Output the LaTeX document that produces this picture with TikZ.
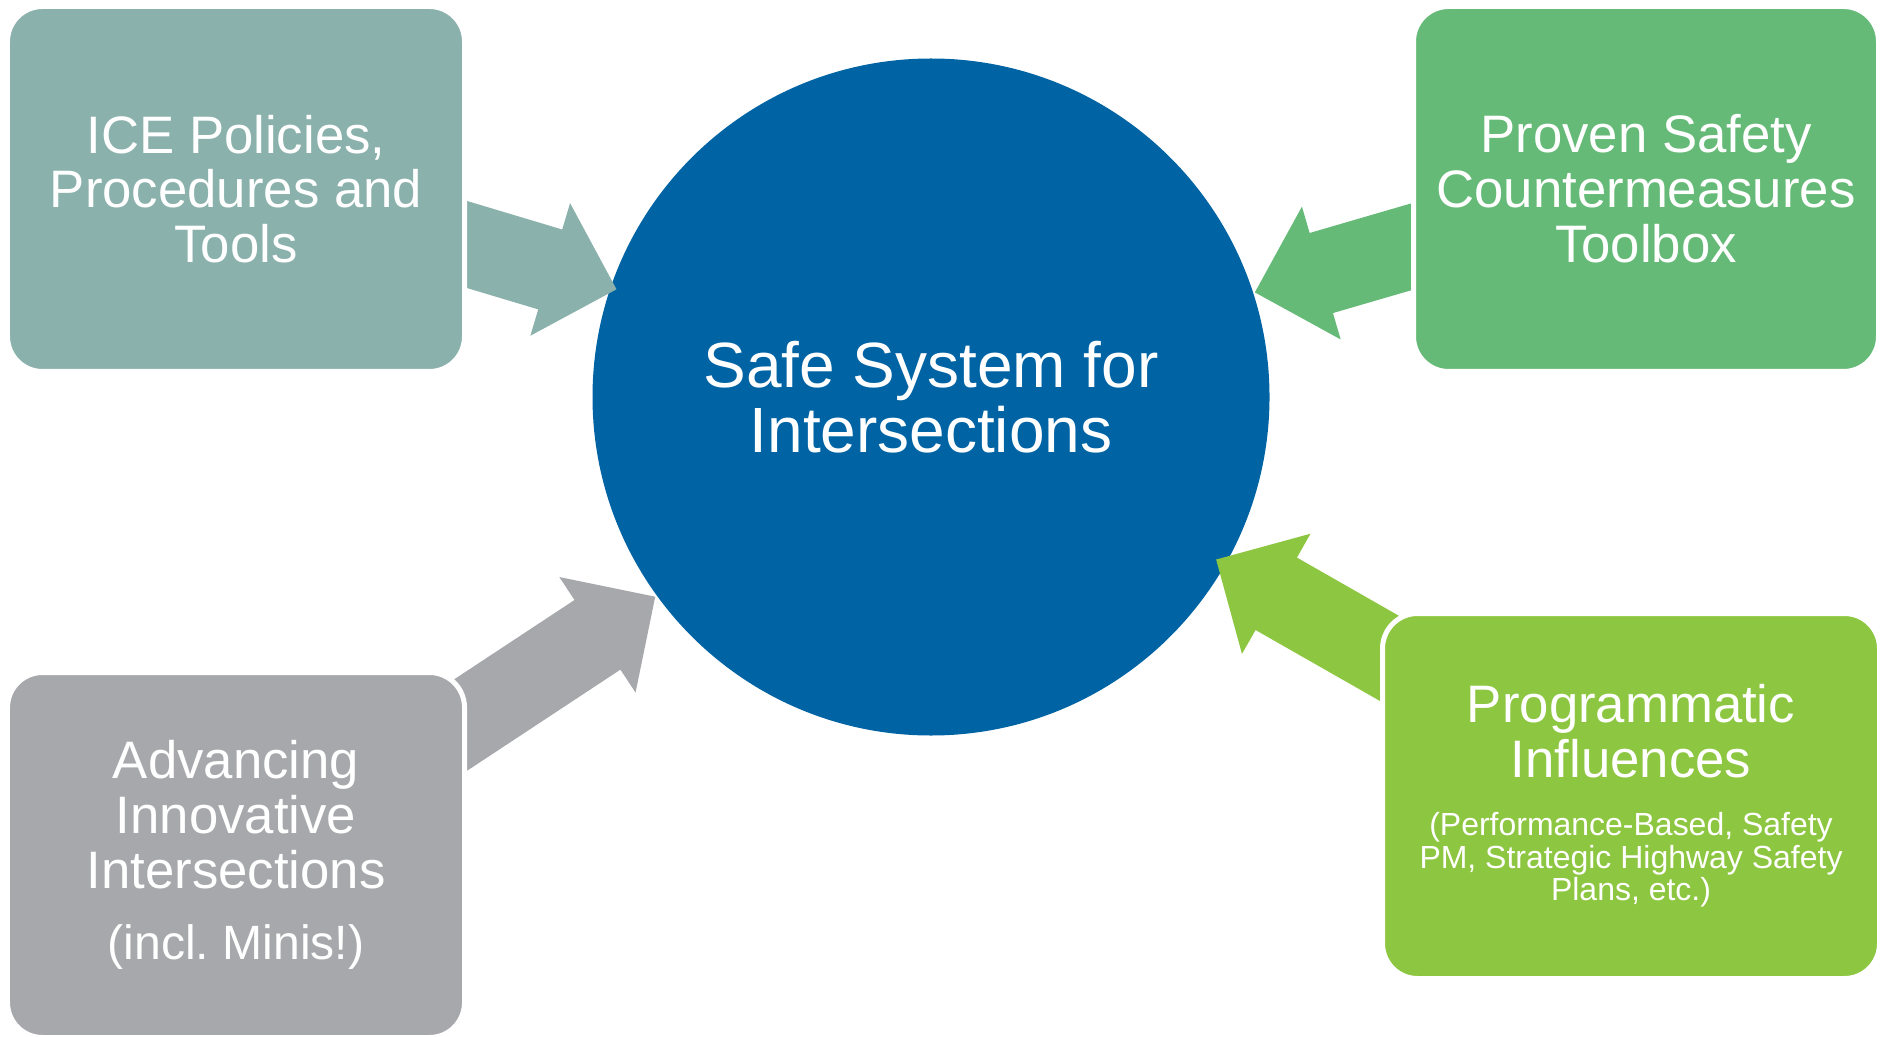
\documentclass[tikz,border=0pt]{standalone}
\usepackage{fontspec}
\setmainfont{Liberation Sans}
\frenchspacing
\usetikzlibrary{shapes.arrows}

\definecolor{iceteal}{HTML}{8AB1AB}
\definecolor{provgreen}{HTML}{66BA77}
\definecolor{advgray}{HTML}{A7A8AC}
\definecolor{proglime}{HTML}{8DC640}
\definecolor{hubblue}{HTML}{0064A4}

% circle at the bottom, block arrows above it, boxes on top
\pgfdeclarelayer{hublayer}
\pgfdeclarelayer{arrowlayer}
\pgfsetlayers{hublayer,arrowlayer,main}

\tikzset{
    sidebox/.style={rectangle, rounded corners=0.35cm, draw=white, line width=0.05cm,
        minimum height=3.65cm, inner sep=0pt, text=white, align=center,
        font=\fontsize{15}{15.6}\selectfont},
    hubdisc/.style={circle, fill=hubblue, minimum size=6.77cm, inner sep=0pt,
        text=white, align=center, font=\fontsize{18.2}{18.5}\selectfont},
    blockarrow/.style={single arrow, single arrow head extend=0.275cm,
        inner xsep=0pt, inner ysep=0.41cm, sloped, allow upside down,
        pos=1, anchor=tip}
}

\begin{document}
\begin{tikzpicture}
    \useasboundingbox (0,0) rectangle (18.86,-10.37);

    \begin{pgfonlayer}{hublayer}
    \node[hubdisc] (hub) at (9.31,-3.97) {Safe System for\\Intersections};
    \end{pgfonlayer}

    \node[sidebox, fill=iceteal, minimum width=4.57cm] (ice) at (2.36,-1.89)
        {ICE Policies,\\Procedures and\\Tools};
    \node[sidebox, fill=provgreen, minimum width=4.65cm] (proven) at (16.46,-1.89)
        {Proven Safety\\Countermeasures\\Toolbox};
    \node[sidebox, fill=advgray, minimum width=4.57cm] (adv) at (2.36,-8.55)
        {Advancing\\Innovative\\Intersections\\[4.6pt]{\fontsize{13.7}{14}\selectfont (incl. Minis!)}};
    \node[sidebox, fill=proglime, minimum width=4.97cm] (prog) at (16.31,-7.96)
        {Programmatic\\Influences\\[0.9pt]%
         {\fontsize{9.1}{9.25}\selectfont (Performance-Based, Safety}\\[-6.35pt]%
         {\fontsize{9.1}{9.25}\selectfont PM, Strategic Highway Safety}\\[-6.35pt]%
         {\fontsize{9.1}{9.25}\selectfont Plans, etc.)}};

    % the four inputs pointing at the hub
    \begin{pgfonlayer}{arrowlayer}
    \path (ice) -- (hub) node[blockarrow, fill=iceteal, minimum height=1.9cm, xshift=0.08cm, yshift=0.13cm] (icearrow) {};
    \path (proven) -- (hub) node[blockarrow, fill=provgreen, minimum height=1.9cm, yshift=-0.10cm] (provenarrow) {};
    \path (adv) -- (hub) node[blockarrow, fill=advgray, minimum height=2.8cm, yshift=-0.15cm] (advarrow) {};
    \path (prog) -- (hub) node[blockarrow, fill=proglime, minimum height=2.6cm, xshift=0.12cm] (progarrow) {};
    \end{pgfonlayer}
\end{tikzpicture}
\end{document}
